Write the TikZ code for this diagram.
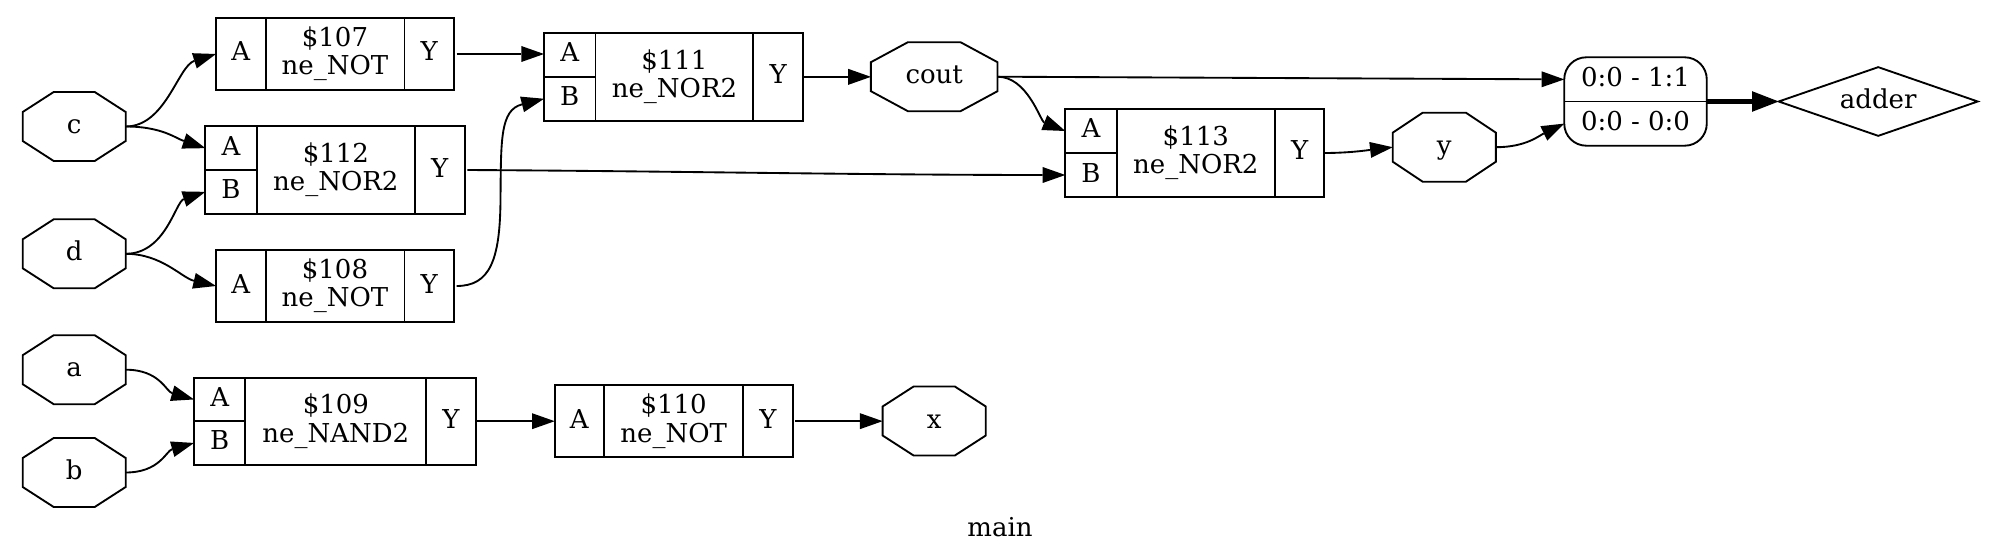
\documentclass[tikz,border=0pt]{standalone}
\usepackage{fontspec}
\setmainfont{DejaVu Serif}
\usetikzlibrary{arrows.meta,shapes.geometric}
\def\u{0.75pt}
% an octagonal port: name, x, y, width, corner cut in x, text
\newcommand\portnode[6]{%
  \node[minimum width=#4*\u,minimum height=69*\u] (#1) at (#2,#3) {#6};
  \draw[shapeline]
    ([xshift=#5*\u]#1.north west) -- ([xshift=-#5*\u]#1.north east)
    -- ([yshift=-20*\u]#1.north east) -- ([yshift=20*\u]#1.south east)
    -- ([xshift=-#5*\u]#1.south east) -- ([xshift=#5*\u]#1.south west)
    -- ([yshift=20*\u]#1.south west) -- ([yshift=-20*\u]#1.north west) -- cycle;
}
\tikzset{
  x=0.75pt,y=-0.75pt,
  every node/.style={font=\fontsize{19.5}{21.2}\selectfont,inner sep=0pt,outer sep=0pt,align=center,text height=15pt,text depth=4.5pt},
  shapeline/.style={line width=1.4pt},
  cell/.style={draw,shapeline,inner sep=0pt},
  two/.style={text height={},text depth={}},
  wire/.style={line width=1.4pt,-{Triangle[length=17pt,width=12pt,line width=0pt]}},
  busw/.style={line width=3.9pt,-{Triangle[length=20pt,width=15.5pt,line width=0pt]}},
  outw/.style={wire,shorten <=2pt}
}
\begin{document}
\begin{tikzpicture}
\useasboundingbox (0,0) rectangle (1991,556);
% ports
\portnode{c}{74.2}{126.5}{103}{31}{c}
\portnode{d}{74.2}{253.8}{103}{31}{d}
\portnode{a}{74.2}{369.7}{103}{31}{a}
\portnode{b}{74.2}{472.5}{103}{31}{b}
\portnode{cout}{934.2}{76.7}{126.6}{37}{cout}
\portnode{y}{1444.3}{147.2}{103.2}{30}{y}
\portnode{x}{934.2}{421}{103.2}{31}{x}
% $107
\node[cell,minimum width=49.6*\u,minimum height=72.6*\u] (n107A) at (240.8,54) {A};
\node[cell,two,minimum width=138.9*\u,minimum height=72.6*\u] (n107M) at (335,54) {\$107\\ne\_NOT};
\node[cell,minimum width=49.5*\u,minimum height=72.6*\u] (n107Y) at (429.2,54) {Y};
% $108
\node[cell,minimum width=49.6*\u,minimum height=72.6*\u] (n108A) at (240.8,286) {A};
\node[cell,two,minimum width=138.9*\u,minimum height=72.6*\u] (n108M) at (335,286) {\$108\\ne\_NOT};
\node[cell,minimum width=49.5*\u,minimum height=72.6*\u] (n108Y) at (429.2,286) {Y};
% $112
\node[cell,minimum width=51.3*\u,minimum height=43.7*\u] (n112A) at (231,148.15) {A};
\node[cell,minimum width=51.3*\u,minimum height=43.7*\u] (n112B) at (231,191.85) {B};
\node[cell,two,minimum width=158.3*\u,minimum height=87.4*\u] (n112M) at (335.85,170) {\$112\\ne\_NOR2};
\node[cell,minimum width=49.6*\u,minimum height=87.4*\u] (n112Y) at (439.8,170) {Y};
% $111
\node[cell,minimum width=51.5*\u,minimum height=43.85*\u] (n111A) at (569.75,54.9) {A};
\node[cell,minimum width=51.5*\u,minimum height=43.85*\u] (n111B) at (569.75,98.75) {B};
\node[cell,two,minimum width=157.9*\u,minimum height=87.7*\u] (n111M) at (674.45,76.85) {\$111\\ne\_NOR2};
\node[cell,minimum width=49.6*\u,minimum height=87.7*\u] (n111Y) at (778.2,76.85) {Y};
% $109
\node[cell,minimum width=51.4*\u,minimum height=43.5*\u] (n109A) at (219.7,399.45) {A};
\node[cell,minimum width=51.4*\u,minimum height=43.5*\u] (n109B) at (219.7,442.95) {B};
\node[cell,two,minimum width=180.9*\u,minimum height=87*\u] (n109M) at (335.85,421.2) {\$109\\ne\_NAND2};
\node[cell,minimum width=49.3*\u,minimum height=87*\u] (n109Y) at (451,421.2) {Y};
% $110
\node[cell,minimum width=49.3*\u,minimum height=72.3*\u] (n110A) at (579.35,421.15) {A};
\node[cell,two,minimum width=139.3*\u,minimum height=72.3*\u] (n110M) at (673.65,421.15) {\$110\\ne\_NOT};
\node[cell,minimum width=49.3*\u,minimum height=72.3*\u] (n110Y) at (768,421.15) {Y};
% $113
\node[cell,minimum width=51.4*\u,minimum height=44*\u] (n113A) at (1091,131) {A};
\node[cell,minimum width=51.4*\u,minimum height=44*\u] (n113B) at (1091,175) {B};
\node[cell,two,minimum width=158.2*\u,minimum height=88*\u] (n113M) at (1195.8,153) {\$113\\ne\_NOR2};
\node[cell,minimum width=49.4*\u,minimum height=88*\u] (n113Y) at (1299.6,153) {Y};
% record
\node[draw,shapeline,rounded corners=22*\u,minimum width=142.5*\u,minimum height=88.4*\u] (rec) at (1635.5,101.5) {};
\node[minimum width=142.5*\u,minimum height=44.2*\u] (recT) at (1635.5,79.4) {0:0 - 1:1};
\node[minimum width=142.5*\u,minimum height=44.2*\u] (recB) at (1635.5,123.6) {0:0 - 0:0};
\draw[shapeline] (recT.south west) -- (recT.south east);
% adder
\node[draw,shapeline,diamond,aspect=2.9,minimum width=199*\u,minimum height=68.7*\u] (adder) at (1878.2,101.5) {adder};
% title
\node[anchor=base] (title) at (1000,536) {main};
% connectors
\draw[wire] (c.east) .. controls +(40,0) and +(-38,12) .. (n107A.west);
\draw[wire] (c.east) .. controls +(36,0) and +(-30,-10) .. (n112A.west);
\draw[wire] (d.east) .. controls +(40,0) and +(-30,10) .. (n112B.west);
\draw[wire] (d.east) .. controls +(36,0) and +(-34,-8) .. (n108A.west);
\draw[wire] (a.east) .. controls +(34,0) and +(-28,-8) .. (n109A.west);
\draw[wire] (b.east) .. controls +(34,0) and +(-28,8) .. (n109B.west);
\draw[outw] (n107Y.east) -- (n107Y.east -| n111A.west);
\draw[outw] (n108Y.east) .. controls +(36,0) and (500,260) .. (500.5,200) .. controls (501,140) and (500,110) .. (n111B.west);
\draw[wire] (n111Y.east) -- (n111Y.east -| cout.west);
\draw[wire] (cout.east) -- (recT.west);
\draw[wire] (cout.east) .. controls +(30,0) and +(-25,-10) .. (n113A.west);
\draw[outw] (n112Y.east) .. controls +(200,1) and +(-200,0) .. (n113B.west);
\draw[wire] (n109Y.east) -- (n109Y.east -| n110A.west);
\draw[outw] (n110Y.east) -- (n110Y.east -| x.west);
\draw[wire] (n113Y.east) .. controls +(25,0) and +(-25,3) .. (y.west);
\draw[wire] (y.east) .. controls +(30,0) and +(-25,12) .. (recB.west);
\draw[busw] (rec.east) -- (adder.west);
\end{tikzpicture}
\end{document}
